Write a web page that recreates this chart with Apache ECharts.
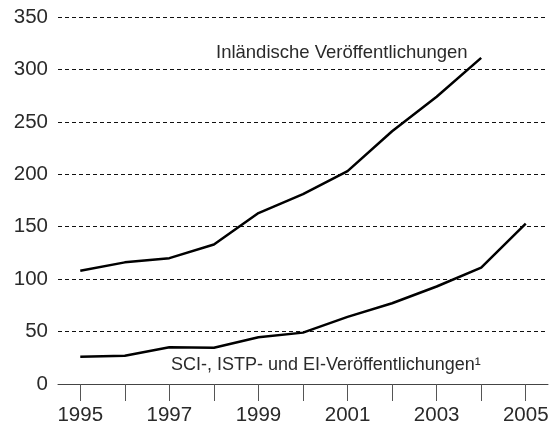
<!DOCTYPE html>
<html>
<head>
<meta charset="utf-8">
<script src="https://cdn.jsdelivr.net/npm/echarts@6/dist/echarts.min.js"></script>
<style>
  html, body { margin: 0; padding: 0; background: #fff; }
  #container { width: 559px; height: 427px; }
</style>
</head>
<body>
<div id="container"></div>
<script>
// Jahre (x-Achse)
var years = ['1995', '1996', '1997', '1998', '1999', '2000', '2001', '2002', '2003', '2004', '2005'];
// Inländische Veröffentlichungen (endet 2004)
var inland = [108, 116, 120, 133, 163, 181, 203, 241, 274, 311, null];
// SCI-, ISTP- und EI-Veröffentlichungen
var sci = [26, 27, 35, 34.5, 44.5, 49, 64, 77, 93, 111, 153];
var yTicks = { min: 0, max: 350, interval: 50 };

var textColor = '#2a2a2a';
var font = 'Liberation Sans';

var chart = echarts.init(document.getElementById('container'));
var option = {
    backgroundColor: '#fff',
    animation: false,
    grid: { left: 58, right: 11, top: 17, bottom: 43 },
    xAxis: {
        type: 'category',
        data: years,
        boundaryGap: true,
        axisLine: { show: true, lineStyle: { color: '#444', width: 1 } },
        axisTick: {
            show: true,
            alignWithLabel: true,
            interval: 0,
            length: 17,
            lineStyle: { color: '#555', width: 1 }
        },
        axisLabel: {
            interval: 1,
            margin: 21,
            color: textColor,
            fontFamily: font,
            fontSize: 20.5
        },
        splitLine: { show: false }
    },
    yAxis: {
        type: 'value',
        min: yTicks.min,
        max: yTicks.max,
        interval: yTicks.interval,
        axisLine: { show: false },
        axisTick: { show: false },
        axisLabel: {
            margin: 10,
            color: textColor,
            fontFamily: font,
            fontSize: 20.5
        },
        splitLine: {
            show: true,
            lineStyle: { color: '#111', width: 1, type: [4, 3] }
        }
    },
    series: [
        {
            name: 'Inländische Veröffentlichungen',
            type: 'line',
            data: inland,
            symbol: 'none',
            connectNulls: false,
            lineStyle: { color: '#000', width: 2.5 }
        },
        {
            name: 'SCI-, ISTP- und EI-Veröffentlichungen',
            type: 'line',
            data: sci,
            symbol: 'none',
            lineStyle: { color: '#000', width: 2.5 }
        }
    ],
    graphic: [
        {
            type: 'text',
            left: 216,
            top: 43,
            style: {
                text: 'Inländische Veröffentlichungen',
                fill: textColor,
                font: '18.5px "Liberation Sans"'
            }
        },
        {
            type: 'text',
            left: 171,
            top: 356,
            style: {
                text: 'SCI-, ISTP- und EI-Veröffentlichungen¹',
                fill: textColor,
                font: '18px "Liberation Sans"'
            }
        }
    ]
};
chart.setOption(option);
</script>
</body>
</html>
